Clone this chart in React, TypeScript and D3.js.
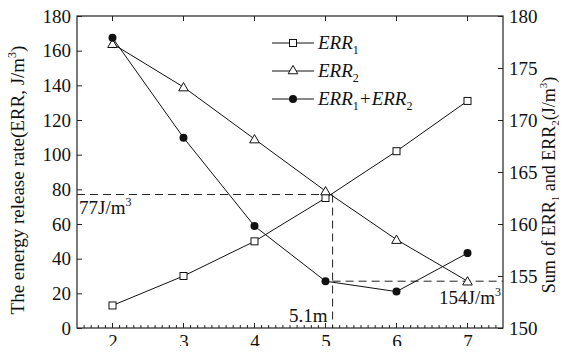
import * as d3 from "d3";
import { useRef, useEffect } from "react";

const width = 567;
const height = 354;
const margin = { top: 16, right: 64, bottom: 26, left: 77 };

const xValues = [2, 3, 4, 5, 6, 7];
const err1 = [13, 30, 50, 75, 102, 131];
const err2 = [164, 139, 109, 79, 51, 27];
const errSum = [177.9, 168.3, 159.8, 154.5, 153.5, 157.2];
const leftTicks = [0, 20, 40, 60, 80, 100, 120, 140, 160, 180];
const rightTicks = [150, 155, 160, 165, 170, 175, 180];
const markLeft = 77;
const markX = 5.1;
const markRight = 154.5;

const font = "'Liberation Serif', 'Times New Roman', serif";

export default function App() {
  const svgRef = useRef<SVGSVGElement>(null);

  useEffect(() => {
    const svg = d3.select(svgRef.current);
    svg.selectAll("*").remove();

    const x = d3.scaleLinear().domain([1.5, 7.5]).range([margin.left, width - margin.right]);
    const yL = d3.scaleLinear().domain([0, 180]).range([height - margin.bottom, margin.top]);
    const yR = d3.scaleLinear().domain([150, 180]).range([height - margin.bottom, margin.top]);
    const x0 = margin.left, x1 = width - margin.right;
    const y0 = height - margin.bottom, y1 = margin.top;

    const g = svg.append("g").style("font-family", font).attr("fill", "#111");

    // frame
    g.append("rect")
      .attr("x", x0).attr("y", y1).attr("width", x1 - x0).attr("height", y0 - y1)
      .attr("fill", "none").attr("stroke", "#222").attr("stroke-width", 1.2);

    // bottom axis
    const bottom = g.append("g").attr("transform", `translate(0,${y0})`);
    bottom.call(d3.axisBottom(x).tickValues(xValues).tickSize(0).tickPadding(7).tickFormat(d3.format("d")));
    bottom.select(".domain").remove();
    bottom.attr("font-family", null);
    bottom.selectAll("text").attr("font-size", 19).style("font-family", font).attr("fill", "#111");
    const minor = d3.range(16, 75).map(d => d / 10);
    g.append("g").selectAll("line").data(minor).join("line")
      .attr("x1", d => x(d)).attr("x2", d => x(d))
      .attr("y1", y0).attr("y2", d => Math.abs(d - Math.round(d)) < 1e-6 ? y0 - 5 : y0 - 3)
      .attr("stroke", "#222");
    // top ticks
    g.append("g").selectAll("line").data(xValues).join("line")
      .attr("x1", d => x(d)).attr("x2", d => x(d))
      .attr("y1", y1).attr("y2", y1 + 5).attr("stroke", "#222");

    // left axis
    const left = g.append("g").attr("transform", `translate(${x0},0)`);
    left.call(d3.axisLeft(yL).tickValues(leftTicks).tickSizeInner(-5).tickSizeOuter(0).tickPadding(6));
    left.select(".domain").remove();
    left.attr("font-family", null);
    left.selectAll("line").attr("stroke", "#222");
    left.selectAll("text").attr("font-size", 19).style("font-family", font).attr("fill", "#111");

    // right axis
    const right = g.append("g").attr("transform", `translate(${x1},0)`);
    right.call(d3.axisRight(yR).tickValues(rightTicks).tickSizeInner(-5).tickSizeOuter(0).tickPadding(6));
    right.select(".domain").remove();
    right.attr("font-family", null);
    right.selectAll("line").attr("stroke", "#222");
    right.selectAll("text").attr("font-size", 19).style("font-family", font).attr("fill", "#111");

    // axis titles
    const lt = g.append("text")
      .attr("transform", `translate(24,180) rotate(-90)`)
      .attr("text-anchor", "middle").attr("font-size", 19);
    lt.append("tspan").text("The energy release rate(ERR, J/m");
    lt.append("tspan").attr("font-size", 12).attr("dy", -8).text("3");
    lt.append("tspan").attr("dy", 8).text(")");

    const rt = g.append("text")
      .attr("transform", `translate(555,185) rotate(-90)`)
      .attr("text-anchor", "middle").attr("font-size", 18);
    rt.append("tspan").text("Sum of ERR");
    rt.append("tspan").attr("font-size", 11).attr("dy", 4).text("1");
    rt.append("tspan").attr("dy", -4).text(" and ERR");
    rt.append("tspan").attr("font-size", 11).attr("dy", 4).text("2");
    rt.append("tspan").attr("dy", -4).text("(J/m");
    rt.append("tspan").attr("font-size", 11).attr("dy", -8).text("3");
    rt.append("tspan").attr("dy", 8).text(")");

    // dashed guide lines
    const dash = "8,5";
    g.append("line").attr("x1", x0).attr("x2", x(markX)).attr("y1", yL(markLeft)).attr("y2", yL(markLeft))
      .attr("stroke", "#222").attr("stroke-dasharray", dash);
    g.append("line").attr("x1", x(markX)).attr("x2", x(markX)).attr("y1", yL(markLeft)).attr("y2", y0)
      .attr("stroke", "#222").attr("stroke-dasharray", dash);
    g.append("line").attr("x1", x(markX)).attr("x2", x1).attr("y1", yR(markRight)).attr("y2", yR(markRight))
      .attr("stroke", "#222").attr("stroke-dasharray", dash);

    // annotations
    const a1 = g.append("text").attr("x", x0 + 2).attr("y", yL(markLeft) + 19).attr("font-size", 19);
    a1.append("tspan").text("77J/m");
    a1.append("tspan").attr("font-size", 12).attr("dy", -8).text("3");
    g.append("text").attr("x", x(markX) - 5).attr("y", y0 - 6).attr("text-anchor", "end")
      .attr("font-size", 19).text("5.1m");
    const a3 = g.append("text").attr("x", x1 - 2).attr("y", yR(markRight) + 23).attr("text-anchor", "end").attr("font-size", 19);
    a3.append("tspan").text("154J/m");
    a3.append("tspan").attr("font-size", 12).attr("dy", -8).text("3");

    // series
    const lineL = d3.line<number>().x((_, i) => x(xValues[i])).y(d => yL(d));
    const lineR = d3.line<number>().x((_, i) => x(xValues[i])).y(d => yR(d));
    g.append("path").attr("d", lineL(err1)).attr("fill", "none").attr("stroke", "#111").attr("stroke-width", 1);
    g.append("path").attr("d", lineL(err2)).attr("fill", "none").attr("stroke", "#111").attr("stroke-width", 1);
    g.append("path").attr("d", lineR(errSum)).attr("fill", "none").attr("stroke", "#111").attr("stroke-width", 1);

    const tri = d3.symbol().type(d3.symbolTriangle).size(40);
    const square = (sel: any) => sel.attr("width", 7).attr("height", 7).attr("fill", "#fff").attr("stroke", "#111");

    g.append("g").selectAll("rect").data(err1).join("rect")
      .attr("x", (_, i) => x(xValues[i]) - 3.5).attr("y", d => yL(d) - 3.5).call(square);
    g.append("g").selectAll("path").data(err2).join("path")
      .attr("d", tri()).attr("transform", (d, i) => `translate(${x(xValues[i])},${yL(d) + 1})`)
      .attr("fill", "#fff").attr("stroke", "#111");
    g.append("g").selectAll("circle").data(errSum).join("circle")
      .attr("cx", (_, i) => x(xValues[i])).attr("cy", d => yR(d)).attr("r", 4).attr("fill", "#111");

    // legend
    const legend = g.append("g").attr("transform", "translate(272,0)");
    const rows = [
      { y: 43, kind: "square", label: ["ERR", "1"] },
      { y: 71, kind: "tri", label: ["ERR", "2"] },
      { y: 99, kind: "circle", label: ["ERR", "1", "+ERR", "2"] },
    ];
    rows.forEach(r => {
      legend.append("line").attr("x1", 0).attr("x2", 42).attr("y1", r.y).attr("y2", r.y).attr("stroke", "#111");
      if (r.kind === "square") {
        legend.append("rect").attr("x", 21 - 3.5).attr("y", r.y - 3.5).call(square);
      } else if (r.kind === "tri") {
        legend.append("path").attr("d", tri()).attr("transform", `translate(21,${r.y})`)
          .attr("fill", "#fff").attr("stroke", "#111");
      } else {
        legend.append("circle").attr("cx", 21).attr("cy", r.y).attr("r", 4).attr("fill", "#111");
      }
      const t = legend.append("text").attr("x", 46).attr("y", r.y + 6).attr("font-size", 19).attr("font-style", "italic");
      r.label.forEach((s, i) => {
        if (i % 2 === 0) {
          t.append("tspan").attr("dy", i === 0 ? 0 : -5).text(s);
        } else {
          t.append("tspan").attr("font-size", 12).attr("font-style", "normal").attr("dy", 5).text(s);
        }
      });
    });
  }, []);

  return <svg ref={svgRef} width={width} height={height} style={{ display: "block", margin: -8, background: "#fff" }} />;
}
